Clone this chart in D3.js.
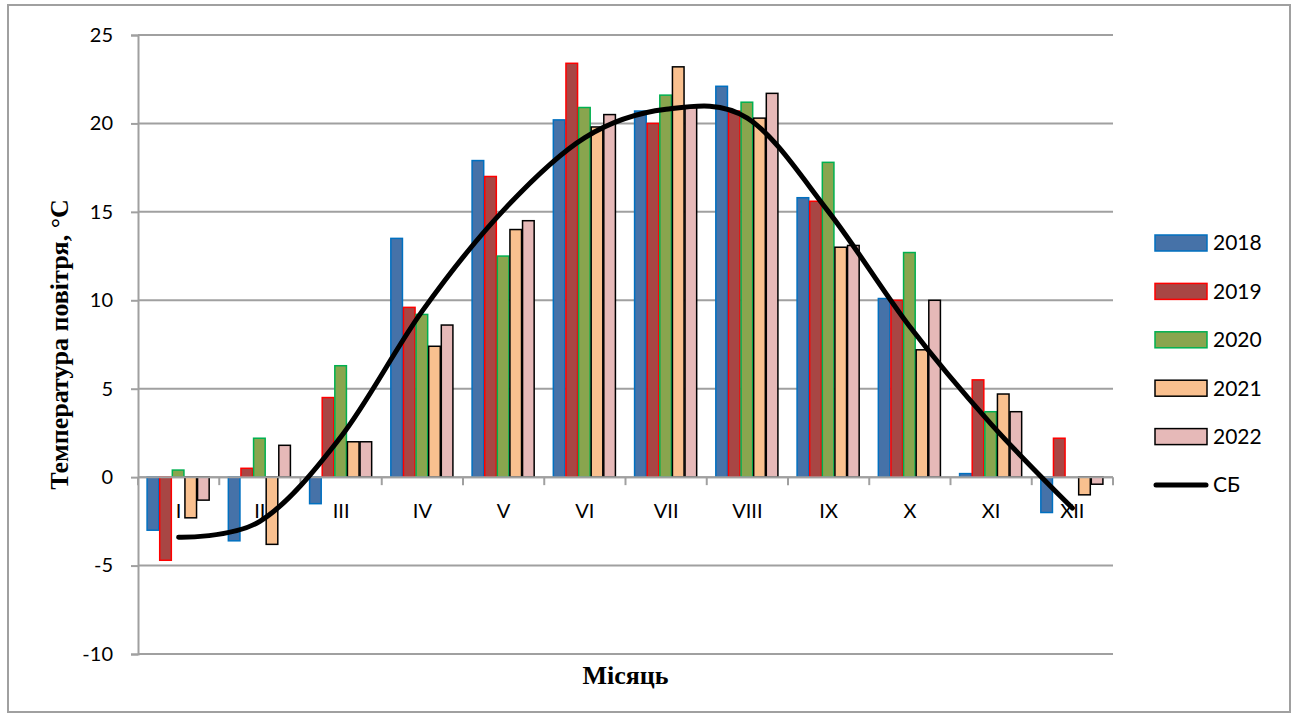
<!DOCTYPE html>
<html>
<head>
<meta charset="utf-8">
<script src="https://cdn.jsdelivr.net/npm/d3@7"></script>
<style>
  body { margin: 0; background: #fff; }
  svg text { font-family: Lato, "Open Sans", sans-serif; }
</style>
</head>
<body>
<div id="chart"></div>
<script>
const months = ["I", "II", "III", "IV", "V", "VI", "VII", "VIII", "IX", "X", "XI", "XII"];
const years = ["2018", "2019", "2020", "2021", "2022"];

const t2018 = [-3.0, -3.6, -1.5, 13.5, 17.9, 20.2, 20.7, 22.1, 15.8, 10.1, 0.2, -2.0];
const t2019 = [-4.7, 0.5, 4.5, 9.6, 17.0, 23.4, 20.0, 20.7, 15.6, 10.0, 5.5, 2.2];
const t2020 = [0.4, 2.2, 6.3, 9.2, 12.5, 20.9, 21.6, 21.2, 17.8, 12.7, 3.7, 0.0];
const t2021 = [-2.3, -3.8, 2.0, 7.4, 14.0, 19.8, 23.2, 20.3, 13.0, 7.2, 4.7, -1.0];
const t2022 = [-1.3, 1.8, 2.0, 8.6, 14.5, 20.5, 21.0, 21.7, 13.1, 10.0, 3.7, -0.4];
const norm = [-3.4, -2.5, 2.3, 9.4, 15.1, 19.2, 20.8, 20.3, 15.0, 8.5, 3.0, -1.75];

const yTicks = [25, 20, 15, 10, 5, 0, -5, -10];

const series = [t2018, t2019, t2020, t2021, t2022];
const fills = ["#4672A8", "#A84644", "#89A54E", "#F9C08F", "#E6B9B8"];
const strokes = ["#0070C0", "#FF0000", "#00B050", "#000000", "#000000"];

const W = 1295, H = 717;
const plot = { left: 138, right: 1113, top: 35, bottom: 654 };

const svg = d3.select("#chart").append("svg")
  .attr("width", W).attr("height", H);

// outer frame
svg.append("rect")
  .attr("x", 8).attr("y", 5).attr("width", 1282).attr("height", 707)
  .attr("fill", "none").attr("stroke", "#a0a0a0").attr("stroke-width", 2);

const x = d3.scaleBand().domain(months).range([plot.left, plot.right]).padding(0);
const xs = d3.scaleBand().domain(years).range([0, x.bandwidth()]).paddingInner(0).paddingOuter(0.72);
const y = d3.scaleLinear().domain([-10, 25]).range([plot.bottom, plot.top]);

// gridlines
svg.append("g").selectAll("line").data(yTicks).join("line")
  .attr("x1", plot.left).attr("x2", plot.right)
  .attr("y1", d => y(d)).attr("y2", d => y(d))
  .attr("stroke", "#a0a0a0").attr("stroke-width", 2);

// y axis
const yAxis = svg.append("g").attr("transform", `translate(${plot.left},0)`)
  .call(d3.axisLeft(y).tickValues(yTicks).tickSize(7).tickPadding(18).tickFormat(d => String(d)));
yAxis.select(".domain").attr("stroke", "#a0a0a0").attr("stroke-width", 2);
yAxis.selectAll(".tick line").attr("stroke", "#a0a0a0").attr("stroke-width", 2);
yAxis.selectAll(".tick text").attr("font-size", 20).attr("fill", "#000")
  .style("font-family", "Lato, sans-serif");

// bars
years.forEach((yr, si) => {
  svg.append("g").selectAll("rect").data(series[si]).join("rect")
    .attr("x", (d, i) => x(months[i]) + xs(yr))
    .attr("width", xs.bandwidth() - 1)
    .attr("y", d => y(Math.max(0, d)))
    .attr("height", d => Math.abs(y(d) - y(0)))
    .attr("fill", fills[si])
    .attr("stroke", d => d === 0 ? "none" : strokes[si])
    .attr("stroke-width", 1.5);
});

// x axis at zero
const xAxis = svg.append("g").attr("transform", `translate(0,${y(0)})`);
xAxis.append("line")
  .attr("x1", plot.left).attr("x2", plot.right)
  .attr("stroke", "#a0a0a0").attr("stroke-width", 2);
const boundaries = months.map(m => x(m)).concat([plot.right]);
xAxis.selectAll("line.tk").data(boundaries).join("line").attr("class", "tk")
  .attr("x1", d => d).attr("x2", d => d).attr("y1", 0).attr("y2", 8)
  .attr("stroke", "#a0a0a0").attr("stroke-width", 2);
xAxis.selectAll("text").data(months).join("text")
  .attr("x", d => x(d) + x.bandwidth() / 2)
  .attr("y", 41)
  .attr("text-anchor", "middle")
  .attr("font-size", 20)
  .attr("fill", "#000")
  .text(d => d);

// average line
const line = d3.line()
  .x((d, i) => x(months[i]) + x.bandwidth() / 2)
  .y(d => y(d))
  .curve(d3.curveCardinal.tension(0));
svg.append("path").datum(norm)
  .attr("d", line)
  .attr("fill", "none").attr("stroke", "#000").attr("stroke-width", 5)
  .attr("stroke-linecap", "round");

// axis titles
svg.append("text")
  .attr("transform", `translate(68,${(plot.top + plot.bottom) / 2}) rotate(-90)`)
  .attr("text-anchor", "middle")
  .style("font-family", "'Liberation Serif', 'Times New Roman', serif")
  .attr("font-weight", "bold").attr("font-size", 26)
  .text("Температура повітря, °С");

svg.append("text")
  .attr("x", (plot.left + plot.right) / 2)
  .attr("y", 684)
  .attr("text-anchor", "middle")
  .style("font-family", "'Liberation Serif', 'Times New Roman', serif")
  .attr("font-weight", "bold").attr("font-size", 26)
  .text("Місяць");

// legend
const legendItems = years.concat(["СБ"]);
const ly = d3.scalePoint().domain(legendItems).range([243, 485]);
const legend = svg.append("g");
years.forEach((yr, si) => {
  legend.append("rect")
    .attr("x", 1155).attr("y", ly(yr) - 8).attr("width", 52).attr("height", 16)
    .attr("fill", fills[si]).attr("stroke", strokes[si]).attr("stroke-width", 1.5);
});
legend.append("line")
  .attr("x1", 1156).attr("x2", 1206).attr("y1", ly("СБ")).attr("y2", ly("СБ"))
  .attr("stroke", "#000").attr("stroke-width", 5).attr("stroke-linecap", "round");
legend.selectAll("text").data(legendItems).join("text")
  .attr("x", 1213).attr("y", d => ly(d))
  .attr("dy", "0.35em")
  .attr("font-size", 21)
  .attr("fill", "#000")
  .text(d => d);
</script>
</body>
</html>
